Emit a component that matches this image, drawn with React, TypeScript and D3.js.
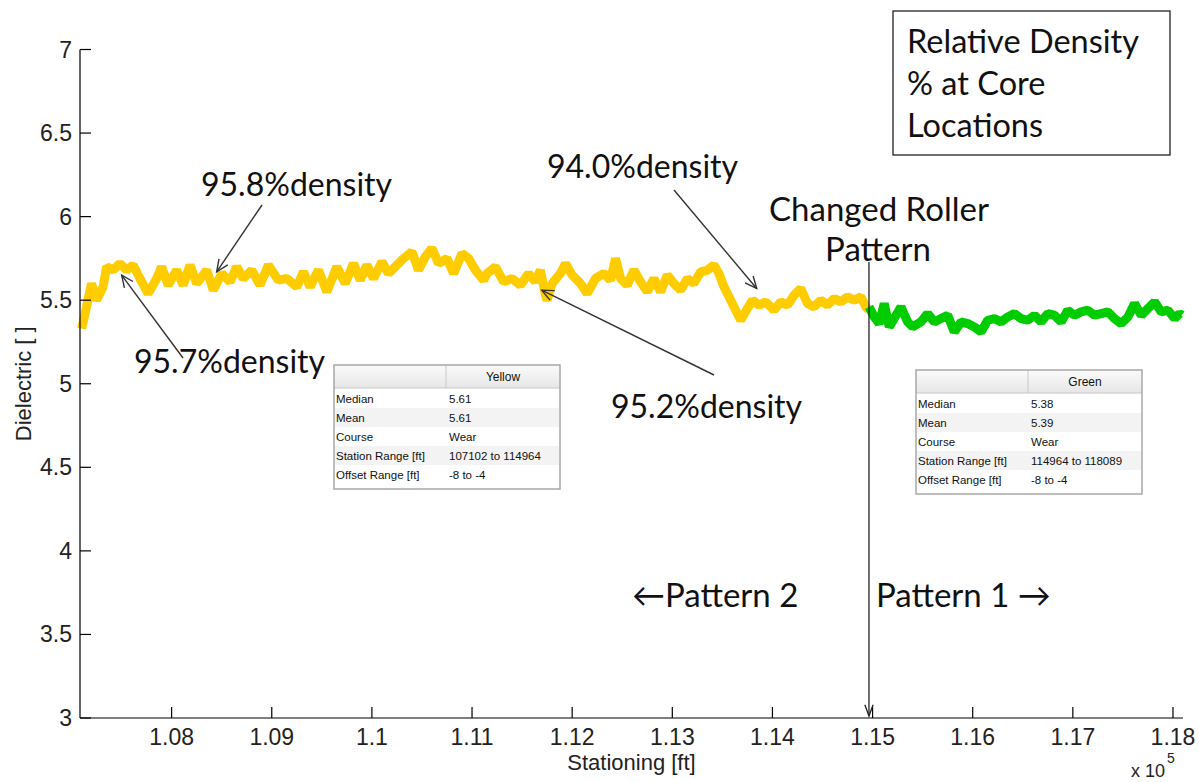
import React from 'react';
import * as d3 from 'd3';

// ---------- data ----------
const yellowStation = [
  107102, 107150, 107200, 107250, 107316, 107350, 107416, 107483, 107550, 107616,
  107683, 107766, 107850, 107900, 107966, 108050, 108116, 108183, 108250, 108350,
  108416, 108500, 108583, 108650, 108716, 108800, 108883, 108966, 109066, 109150,
  109250, 109316, 109383, 109466, 109550, 109650, 109733, 109816, 109883, 109950,
  110016, 110100, 110166, 110233, 110316, 110400, 110466, 110533, 110600, 110666,
  110750, 110816, 110900, 110966, 111033, 111116, 111150, 111233, 111316, 111400,
  111483, 111566, 111633, 111683, 111733, 111750, 111800, 111883, 111933, 112000,
  112083, 112150, 112233, 112316, 112383, 112433, 112483, 112550, 112616, 112683,
  112750, 112816, 112883, 112950, 113016, 113083, 113150, 113216, 113283, 113350,
  113416, 113466, 113516, 113583, 113633, 113683, 113750, 113800, 113866, 113933,
  114016, 114083, 114150, 114216, 114283, 114350, 114416, 114483, 114550, 114616,
  114683, 114750, 114816, 114883, 114933, 114964,
];
const yellowDielectric = [
  5.33, 5.46, 5.60, 5.50, 5.58, 5.70, 5.68, 5.72, 5.68, 5.71,
  5.63, 5.54, 5.63, 5.70, 5.59, 5.68, 5.59, 5.71, 5.60, 5.68,
  5.56, 5.66, 5.61, 5.70, 5.63, 5.68, 5.59, 5.71, 5.62, 5.63,
  5.58, 5.67, 5.58, 5.68, 5.55, 5.70, 5.60, 5.72, 5.62, 5.71,
  5.63, 5.73, 5.66, 5.70, 5.75, 5.79, 5.68, 5.76, 5.81, 5.72,
  5.75, 5.66, 5.78, 5.75, 5.68, 5.62, 5.66, 5.70, 5.61, 5.63,
  5.59, 5.66, 5.61, 5.68, 5.53, 5.50, 5.60, 5.66, 5.72, 5.65,
  5.60, 5.54, 5.63, 5.66, 5.62, 5.75, 5.63, 5.59, 5.68, 5.61,
  5.55, 5.63, 5.55, 5.65, 5.60, 5.56, 5.63, 5.60, 5.67, 5.68,
  5.71, 5.66, 5.58, 5.50, 5.44, 5.38, 5.45, 5.50, 5.47, 5.49,
  5.44, 5.49, 5.47, 5.53, 5.57, 5.48, 5.46, 5.50, 5.47, 5.51,
  5.49, 5.52, 5.50, 5.52, 5.46, 5.44,
];
const greenStation = [
  114964, 115016, 115066, 115116, 115166, 115216, 115283, 115350, 115400, 115483,
  115550, 115616, 115683, 115750, 115816, 115883, 115950, 116016, 116083, 116150,
  116216, 116283, 116350, 116416, 116483, 116550, 116616, 116683, 116750, 116816,
  116883, 116950, 117016, 117083, 117150, 117216, 117283, 117350, 117416, 117483,
  117550, 117616, 117683, 117750, 117816, 117883, 117950, 118016, 118066, 118089,
];
const greenDielectric = [
  5.46, 5.40, 5.36, 5.48, 5.34, 5.39, 5.46, 5.37, 5.34, 5.37,
  5.42, 5.37, 5.39, 5.41, 5.31, 5.37, 5.36, 5.34, 5.31, 5.38,
  5.39, 5.37, 5.40, 5.42, 5.39, 5.38, 5.41, 5.37, 5.42, 5.41,
  5.37, 5.44, 5.41, 5.43, 5.44, 5.41, 5.42, 5.43, 5.39, 5.36,
  5.40, 5.48, 5.41, 5.45, 5.49, 5.43, 5.44, 5.39, 5.42, 5.41,
];

const xTicks = [108000, 109000, 110000, 111000, 112000, 113000, 114000, 115000, 116000, 117000, 118000];
const xTickLabels = ['1.08', '1.09', '1.1', '1.11', '1.12', '1.13', '1.14', '1.15', '1.16', '1.17', '1.18'];
const yTicks = [3, 3.5, 4, 4.5, 5, 5.5, 6, 6.5, 7];
const yTickLabels = ['3', '3.5', '4', '4.5', '5', '5.5', '6', '6.5', '7'];

const tableRowLabels = ['Median', 'Mean', 'Course', 'Station Range [ft]', 'Offset Range [ft]'];
const yellowTableValues = ['5.61', '5.61', 'Wear', '107102 to 114964', '-8 to -4'];
const greenTableValues = ['5.38', '5.39', 'Wear', '114964 to 118089', '-8 to -4'];

const changeStation = 114964;

const densityLabels = ['95.8%density', '95.7%density', '95.2%density', '94.0%density'];
const densityTipStation = [108450, 107501, 111696, 113843];
const densityTipValue = [5.67, 5.65, 5.56, 5.57];

// ---------- layout ----------
const W = 1199;
const H = 782;
const plotLeft = 80;
const plotRight = 1183;
const plotTop = 49.5;
const plotBottom = 718;

const xScale = d3.scaleLinear().domain([107085, 118100]).range([plotLeft, plotRight]);
const yScale = d3.scaleLinear().domain([3, 7]).range([plotBottom, plotTop]);

const lineGen = d3
  .line<[number, number]>()
  .x((d) => xScale(d[0]))
  .y((d) => yScale(d[1]));

const AXIS_FONT = "'Liberation Sans', Arial, sans-serif";
const ANNOT_FONT = "Lato, 'Open Sans', sans-serif";

function arrowHead(x1: number, y1: number, x2: number, y2: number, len = 13, ang = 0.42) {
  const a = Math.atan2(y2 - y1, x2 - x1);
  const p1 = [x2 - len * Math.cos(a - ang), y2 - len * Math.sin(a - ang)];
  const p2 = [x2 - len * Math.cos(a + ang), y2 - len * Math.sin(a + ang)];
  return `M${p1[0]},${p1[1]}L${x2},${y2}L${p2[0]},${p2[1]}`;
}

function Arrow({ x1, y1, x2, y2, color = '#333' }: { x1: number; y1: number; x2: number; y2: number; color?: string }) {
  return (
    <g stroke={color} strokeWidth={1.4} fill="none">
      <line x1={x1} y1={y1} x2={x2} y2={y2} />
      <path d={arrowHead(x1, y1, x2, y2)} />
    </g>
  );
}

function StatTable({ x, y, title, values }: { x: number; y: number; title: string; values: string[] }) {
  const w = 226;
  const headerH = 23;
  const rowH = 19;
  const colX = 112;
  const h = headerH + rowH * tableRowLabels.length + 6;
  return (
    <g fontFamily={AXIS_FONT} fontSize={11.5} fill="#111">
      <rect x={x} y={y} width={w} height={h} fill="#fff" />
      <rect x={x} y={y} width={w} height={headerH} fill="url(#hdrGrad)" />
      <line x1={x} y1={y + headerH} x2={x + w} y2={y + headerH} stroke="#c8c8c8" strokeWidth={1} />
      <line x1={x + colX} y1={y} x2={x + colX} y2={y + headerH} stroke="#c8c8c8" strokeWidth={1} />
      {tableRowLabels.map((lab, i) => (
        <g key={lab}>
          {i % 2 === 1 && (
            <rect x={x + 1} y={y + headerH + 1 + rowH * i} width={w - 2} height={rowH} fill="#f3f3f3" />
          )}
          <text x={x + 2} y={y + headerH + 1 + rowH * i + 14}>{lab}</text>
          <text x={x + colX + 3} y={y + headerH + 1 + rowH * i + 14}>{values[i]}</text>
        </g>
      ))}
      <text x={x + colX + (w - colX) / 2} y={y + 16} textAnchor="middle" fontSize={12}>{title}</text>
      <rect x={x} y={y} width={w} height={h} fill="none" stroke="#a8a8a8" strokeWidth={1.5} />
    </g>
  );
}

export default function App() {
  const yellowPts = yellowStation.map((s, i) => [s, yellowDielectric[i]] as [number, number]);
  const greenPts = greenStation.map((s, i) => [s, greenDielectric[i]] as [number, number]);
  const changeX = xScale(changeStation);

  const tips = densityTipStation.map((s, i) => [xScale(s), yScale(densityTipValue[i])]);
  const arrowStarts = [
    [262, 205],
    [183, 358],
    [714, 375],
    [674, 190],
  ];
  const labelPos = [
    [201, 196],
    [134, 373],
    [611, 418],
    [547, 178],
  ];

  return (
    <svg width={W} height={H} style={{ position: 'absolute', left: 0, top: 0, background: '#fff' }}>
      <defs>
        <linearGradient id="hdrGrad" x1="0" y1="0" x2="0" y2="1">
          <stop offset="0" stopColor="#fbfbfb" />
          <stop offset="1" stopColor="#e6e6e6" />
        </linearGradient>
      </defs>
      <rect x={0} y={0} width={W} height={H} fill="#fff" />

      {/* data lines */}
      <path d={lineGen(yellowPts) || ''} fill="none" stroke="#ffcc00" strokeWidth={9} strokeLinejoin="bevel" />
      <path d={lineGen(greenPts) || ''} fill="none" stroke="#00cc00" strokeWidth={9} strokeLinejoin="bevel" />

      {/* axes */}
      <g stroke="#000" strokeWidth={1.2}>
        <line x1={plotLeft} y1={plotTop} x2={plotLeft} y2={plotBottom} />
        <line x1={plotLeft} y1={plotBottom} x2={plotRight} y2={plotBottom} />
        {yTicks.map((t) => (
          <line key={'yt' + t} x1={plotLeft} y1={yScale(t)} x2={plotLeft + 11} y2={yScale(t)} />
        ))}
        {xTicks.map((t) => (
          <line key={'xt' + t} x1={xScale(t)} y1={plotBottom} x2={xScale(t)} y2={plotBottom - 11} />
        ))}
      </g>
      <g fontFamily={AXIS_FONT} fontSize={23} fill="#222">
        {yTicks.map((t, i) => (
          <text key={'yl' + t} x={plotLeft - 8} y={yScale(t) + 8} textAnchor="end">{yTickLabels[i]}</text>
        ))}
        {xTicks.map((t, i) => (
          <text key={'xl' + t} x={xScale(t)} y={745} textAnchor="middle">{xTickLabels[i]}</text>
        ))}
        <text x={(plotLeft + plotRight) / 2} y={770} textAnchor="middle" fontSize={22}>Stationing [ft]</text>
        <text x={31} y={(plotTop + plotBottom) / 2} textAnchor="middle" fontSize={22} transform={`rotate(-90 31 ${(plotTop + plotBottom) / 2})`}>Dielectric [ ]</text>
        <text x={1131} y={777} fontSize={18}>x 10</text>
        <text x={1167} y={763} fontSize={14}>5</text>
      </g>

      {/* tables */}
      <StatTable x={334} y={365} title="Yellow" values={yellowTableValues} />
      <StatTable x={916} y={370} title="Green" values={greenTableValues} />

      {/* change line */}
      <g stroke="#222" strokeWidth={1.3} fill="none">
        <line x1={changeX} y1={262} x2={changeX} y2={plotBottom - 2} />
        <path d={arrowHead(changeX, 262, changeX, plotBottom - 2, 12, 0.35)} />
      </g>

      {/* density annotations */}
      {densityLabels.map((lab, i) => (
        <g key={lab}>
          <Arrow x1={arrowStarts[i][0]} y1={arrowStarts[i][1]} x2={tips[i][0]} y2={tips[i][1]} />
          <text x={labelPos[i][0]} y={labelPos[i][1]} fontFamily={ANNOT_FONT} fontSize={32} fill="#111">{lab}</text>
        </g>
      ))}

      <g fontFamily={ANNOT_FONT} fontSize={33} fill="#111">
        <text x={879} y={221} textAnchor="middle">Changed Roller</text>
        <text x={878} y={261} textAnchor="middle">Pattern</text>
        <text x={632} y={607}>←Pattern 2</text>
        <text x={876} y={607}>Pattern 1 →</text>
      </g>

      {/* legend box */}
      <rect x={893} y={11} width={277} height={144} fill="#fff" stroke="#222" strokeWidth={1.3} />
      <g fontFamily={ANNOT_FONT} fontSize={32.5} fill="#111">
        <text x={907} y={53}>Relative Density</text>
        <text x={907} y={95}>% at Core</text>
        <text x={907} y={137}>Locations</text>
      </g>
    </svg>
  );
}
